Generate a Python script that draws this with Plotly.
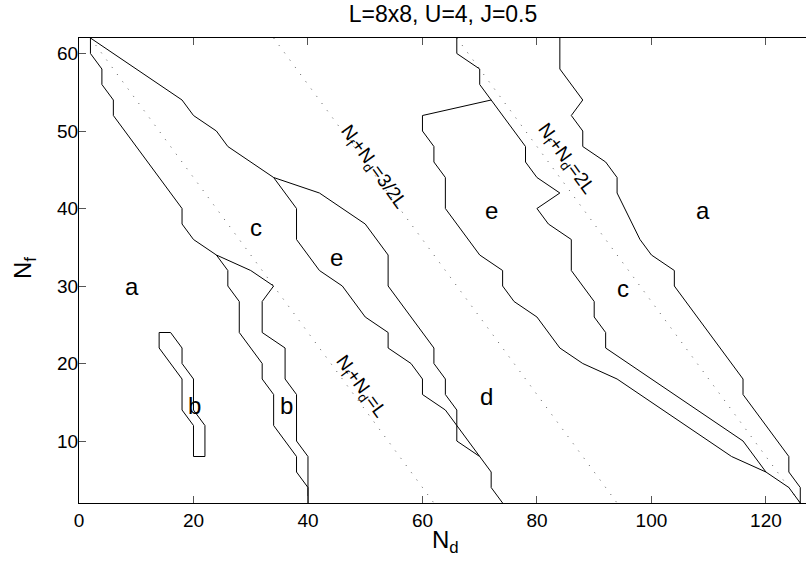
import plotly.graph_objects as go

# ---- data ----
title_text = "L=8x8, U=4, J=0.5"
x_ticks = [0, 20, 40, 60, 80, 100, 120]
y_ticks = [10, 20, 30, 40, 50, 60]

# phase boundaries (N_d, N_f)
ac_left_nd = [2, 2, 4, 4, 6, 6, 18, 18, 20, 24]
ac_left_nf = [62, 60, 58, 56, 54, 52, 40, 38, 36, 34]

b_left_nd = [24, 26, 26, 28, 28, 32, 32, 34, 34, 38, 38, 40, 40]
b_left_nf = [34, 32, 30, 28, 24, 20, 18, 16, 12, 8, 6, 4, 2]

b_right_nd = [24, 30, 34, 32, 32, 36, 36, 38, 38, 40, 40]
b_right_nf = [34, 32, 30, 28, 24, 22, 18, 16, 10, 8, 2]

ac_upper_nd = [2, 18, 20, 24, 26, 34, 42, 50, 54, 54, 62, 62, 64, 64, 66, 66, 70, 72, 72, 74]
ac_upper_nf = [62, 54, 52, 50, 48, 44, 42, 38, 34, 30, 22, 20, 18, 16, 14, 10, 8, 6, 4, 2]

ce_left_nd = [34, 38, 38, 42, 46, 50, 54, 54, 58, 60, 60, 64, 70]
ce_left_nf = [44, 40, 36, 32, 30, 26, 24, 22, 20, 18, 16, 14, 8]

ed_nd = [72, 60, 60, 62, 62, 64, 64, 70, 74, 74, 76, 80, 84, 88, 94, 114, 120]
ed_nf = [54, 52, 50, 48, 46, 44, 40, 34, 32, 30, 28, 26, 22, 20, 18, 8, 6]

ce_right_nd = [66, 66, 70, 70, 72, 78, 78, 80, 84, 80, 82, 86, 86, 90, 90, 92, 92, 116, 120, 124, 126]
ce_right_nf = [62, 60, 58, 56, 54, 48, 46, 44, 42, 40, 38, 36, 32, 28, 26, 24, 22, 10, 6, 4, 2]

ac_right_nd = [84, 84, 88, 86, 88, 88, 92, 94, 94, 98, 100, 104, 104, 116, 116, 124, 124, 126, 126]
ac_right_nf = [62, 58, 54, 52, 50, 48, 46, 44, 42, 36, 34, 32, 30, 18, 16, 8, 6, 4, 2]

island_nd = [14, 16, 18, 18, 20, 20, 22, 22, 20, 20, 18, 18, 14, 14]
island_nf = [24, 24, 22, 20, 18, 14, 12, 8, 8, 12, 14, 18, 22, 24]

# guide lines N_f + N_d = const (endpoints)
guide_names = ["N<sub>f</sub>+N<sub>d</sub>=L", "N<sub>f</sub>+N<sub>d</sub>=3/2L", "N<sub>f</sub>+N<sub>d</sub>=2L"]
guide_nd = [[2, 62], [34, 94], [66, 126]]
guide_nf = [[62, 2], [62, 2], [62, 2]]
guide_label_nd = [49.2, 51.3, 85.0]
guide_label_nf = [17.0, 45.3, 46.4]

# region letters
region_text = ["a", "c", "e", "b", "b", "e", "a", "c", "d"]
region_nd = [9.2, 31.0, 45.0, 20.2, 36.2, 72.0, 109.0, 95.0, 71.2]
region_nf = [29.9, 37.6, 33.7, 14.6, 14.6, 39.8, 39.8, 29.7, 15.7]

FONT = "Liberation Sans, Arial, Helvetica, sans-serif"

FIG_W, FIG_H = 806, 563
PL, PT, PW, PH = 79, 38, 727, 465   # plot area in pixels

fig = go.Figure()

for gx, gy in zip(guide_nd, guide_nf):
    fig.add_trace(go.Scatter(x=gx, y=gy, mode="lines",
                             line=dict(color="#555555", width=1, dash="1px,8px"),
                             hoverinfo="skip", showlegend=False))

for nd, nf in [(ac_left_nd, ac_left_nf), (b_left_nd, b_left_nf), (b_right_nd, b_right_nf),
               (ac_upper_nd, ac_upper_nf), (ce_left_nd, ce_left_nf), (ed_nd, ed_nf),
               (ce_right_nd, ce_right_nf), (ac_right_nd, ac_right_nf), (island_nd, island_nf)]:
    fig.add_trace(go.Scatter(x=nd, y=nf, mode="lines",
                             line=dict(color="black", width=1),
                             hoverinfo="skip", showlegend=False))

annotations = []
for t, x, y in zip(region_text, region_nd, region_nf):
    annotations.append(dict(x=x, y=y, xref="x", yref="y", text=t, showarrow=False,
                            font=dict(family=FONT, size=24, color="black")))
for t, x, y in zip(guide_names, guide_label_nd, guide_label_nf):
    annotations.append(dict(x=x, y=y, xref="x", yref="y", text=t, showarrow=False,
                            textangle=54,
                            font=dict(family=FONT, size=19, color="black")))

# axis titles
annotations.append(dict(x=(445 - PL) / PW, y=-(524 - (PT + PH)) / PH, xref="paper", yref="paper",
                        xanchor="center", yanchor="top",
                        text="N<sub>d</sub>", showarrow=False,
                        font=dict(family=FONT, size=24, color="black")))
annotations.append(dict(x=(24 - PL) / PW, y=(PT + PH - 268) / PH, xref="paper", yref="paper",
                        xanchor="center", yanchor="middle",
                        text="N<sub>f</sub>", showarrow=False, textangle=-90,
                        font=dict(family=FONT, size=24, color="black")))

fig.update_layout(
    width=FIG_W, height=FIG_H,
    margin=dict(l=PL, r=FIG_W - PL - PW, t=PT, b=FIG_H - PT - PH, autoexpand=False),
    paper_bgcolor="white", plot_bgcolor="white",
    title=dict(text=title_text, x=443 / FIG_W, xanchor="center",
               y=1 - 14 / FIG_H, yanchor="middle",
               font=dict(family=FONT, size=23, color="black")),
    annotations=annotations,
    xaxis=dict(range=[0, 127], tickvals=x_ticks, ticktext=[str(v) for v in x_ticks],
               ticks="inside", ticklen=7, tickcolor="#555555", tickwidth=1,
               showline=True, linecolor="black", linewidth=1, mirror="ticks",
               showgrid=False, zeroline=False, automargin=False,
               tickfont=dict(family=FONT, size=19, color="black")),
    yaxis=dict(range=[2, 62], tickvals=y_ticks, ticktext=[str(v) for v in y_ticks],
               ticks="inside", ticklen=7, tickcolor="#555555", tickwidth=1,
               showline=True, linecolor="black", linewidth=1, mirror=False,
               showgrid=False, zeroline=False, automargin=False,
               ticklabelstandoff=-4,
               tickfont=dict(family=FONT, size=19, color="black")),
)

# remove the default 8px page margin so the figure fills the window exactly
fig.write_html("out.html", config={"displayModeBar": False},
               post_script="document.body.style.margin='0';")
